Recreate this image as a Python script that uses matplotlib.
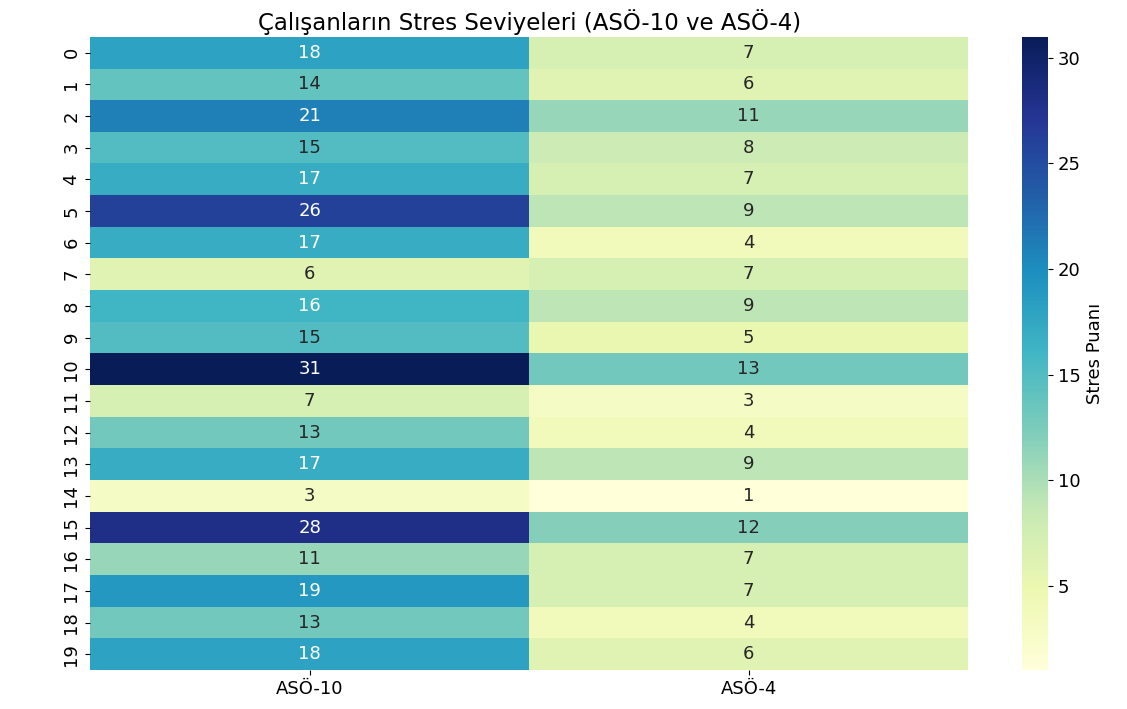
import numpy as np
import pandas as pd
import matplotlib
matplotlib.use("Agg")
import matplotlib.pyplot as plt
import seaborn as sns

aso10 = [18, 14, 21, 15, 17, 26, 17, 6, 16, 15, 31, 7, 13, 17, 3, 28, 11, 19, 13, 18]
aso4 = [7, 6, 11, 8, 7, 9, 4, 7, 9, 5, 13, 3, 4, 9, 1, 12, 7, 7, 4, 6]
columns = ["ASÖ-10", "ASÖ-4"]

df = pd.DataFrame({columns[0]: aso10, columns[1]: aso4})

plt.rcParams.update({'font.size': 13})
fig = plt.figure(figsize=(11.27, 7.09), dpi=100)
ax = fig.add_axes([0.080, 0.055, 0.779, 0.893])
cax = fig.add_axes([0.907, 0.055, 0.023, 0.893])

sns.heatmap(df, annot=True, fmt="d", cmap="YlGnBu", ax=ax, cbar_ax=cax,
            cbar_kws={'label': 'Stres Puanı'}, annot_kws={'size': 13})
ax.set_title("Çalışanların Stres Seviyeleri (ASÖ-10 ve ASÖ-4)", fontsize=16.5, pad=5)
ax.tick_params(labelsize=13)
cax.tick_params(labelsize=13)

fig.savefig("out.png", dpi=100)
